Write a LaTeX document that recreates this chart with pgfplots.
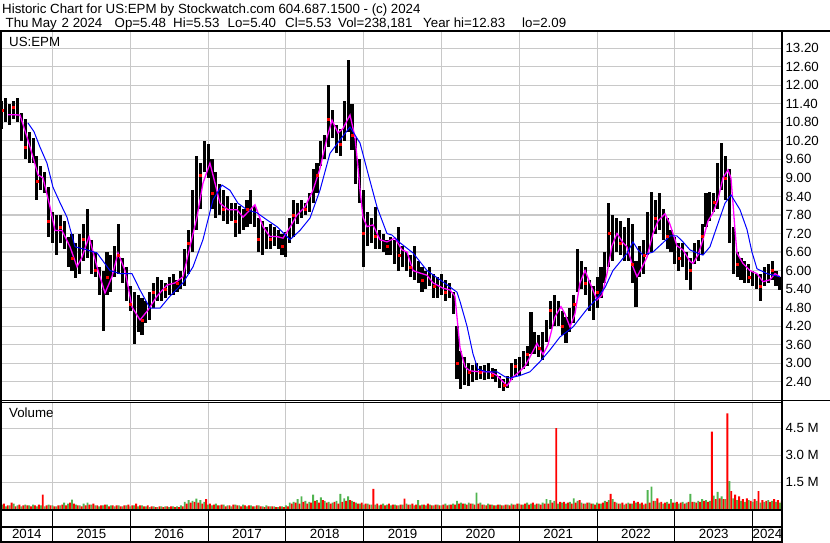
\documentclass[border=0pt]{standalone}
\usepackage{fontspec}
\setmainfont{Liberation Sans}
\usepackage{pgfplots}
\pgfplotsset{compat=1.18}
\usepackage{pgfplotstable}

\definecolor{gridgray}{RGB}{200,200,200}
\definecolor{volgreen}{RGB}{80,180,80}
\definecolor{mamag}{RGB}{255,0,255}
\definecolor{mablue}{RGB}{0,0,255}

% price bars: x (year), high, low, close
\pgfplotstableread{
x h l c
2014.35 11.5 10.6 11.2
2014.40 11.6 10.8 11.0
2014.45 11.4 10.7 11.1
2014.50 11.5 10.9 11.3
2014.55 11.6 10.8 11.0
2014.60 11.1 10.2 10.5
2014.65 10.9 9.6 10.0
2014.70 10.5 9.5 9.8
2014.75 10.3 9.5 9.7
2014.80 9.7 8.3 8.9
2014.85 9.4 8.6 9.0
2014.90 9.2 8.5 8.8
2014.95 8.7 7.1 7.6
2015.00 7.9 6.9 7.3
2015.05 7.8 6.5 7.0
2015.10 7.8 6.9 7.4
2015.15 7.6 6.7 7.0
2015.20 7.1 6.1 6.5
2015.25 7.2 6.0 6.4
2015.30 6.9 5.75 6.1
2015.35 7.2 5.9 6.6
2015.40 7.5 6.3 7.0
2015.45 8.0 6.4 6.9
2015.50 7.0 5.9 6.3
2015.55 6.6 5.8 6.0
2015.60 6.1 5.2 5.5
2015.65 6.0 4.05 5.1
2015.70 6.6 5.2 5.8
2015.75 6.5 5.3 6.1
2015.80 6.8 5.8 6.4
2015.85 7.5 5.9 6.5
2015.90 6.4 5.6 5.9
2015.95 6.1 5.0 5.3
2016.00 5.5 4.7 4.9
2016.05 5.3 3.62 4.3
2016.10 5.2 4.0 4.6
2016.15 5.1 3.9 4.4
2016.20 5.0 4.3 4.7
2016.25 5.3 4.4 5.0
2016.30 5.6 4.8 5.3
2016.35 5.8 5.0 5.4
2016.40 5.7 5.0 5.3
2016.45 5.6 5.1 5.4
2016.50 5.8 5.2 5.6
2016.55 5.9 5.2 5.5
2016.60 5.7 5.3 5.6
2016.65 6.0 5.4 5.8
2016.70 6.7 5.5 6.3
2016.75 7.3 5.9 6.9
2016.80 8.6 6.6 8.0
2016.85 9.7 7.3 8.6
2016.90 9.5 8.0 9.1
2016.95 10.2 9.2 9.8
2017.00 10.1 9.0 9.4
2017.05 9.6 8.0 8.5
2017.10 9.2 7.7 8.3
2017.15 8.8 7.8 8.1
2017.20 8.6 7.6 8.0
2017.25 8.4 7.5 7.9
2017.30 8.2 7.6 7.9
2017.35 8.2 7.1 7.6
2017.40 8.1 7.2 7.8
2017.45 8.0 7.3 7.7
2017.50 8.3 7.4 8.0
2017.55 8.6 7.5 8.1
2017.60 8.1 7.4 7.6
2017.65 7.7 6.6 7.0
2017.70 7.6 6.5 6.9
2017.75 7.4 6.7 7.1
2017.80 7.5 6.7 7.0
2017.85 7.4 6.8 7.1
2017.90 7.3 6.7 6.9
2017.95 7.2 6.5 6.8
2018.00 7.25 6.45 6.9
2018.05 7.7 6.9 7.4
2018.10 8.3 7.1 7.8
2018.15 8.2 7.5 7.9
2018.20 8.3 7.7 8.0
2018.25 8.2 7.8 8.0
2018.30 8.5 7.9 8.3
2018.35 9.3 8.2 8.9
2018.40 9.5 8.5 9.1
2018.45 10.2 9.4 9.9
2018.50 10.4 9.6 10.1
2018.55 12.0 10.0 10.9
2018.60 11.2 10.3 10.6
2018.65 10.7 9.8 10.2
2018.70 10.6 9.7 10.1
2018.75 11.5 10.2 11.0
2018.80 12.83 10.5 11.6
2018.85 11.4 9.9 10.4
2018.90 10.3 8.8 9.3
2018.95 9.6 8.2 8.6
2019.00 8.6 6.12 7.2
2019.05 7.9 6.8 7.4
2019.10 7.7 6.9 7.3
2019.15 8.05 6.7 7.1
2019.20 7.3 6.7 7.0
2019.25 7.2 6.6 6.9
2019.30 7.0 6.5 6.8
2019.35 7.1 6.5 6.9
2019.40 7.0 6.2 6.6
2019.45 7.4 6.0 6.5
2019.50 6.8 6.1 6.4
2019.55 6.6 6.0 6.3
2019.60 6.5 5.8 6.1
2019.65 6.8 5.7 6.0
2019.70 6.3 5.6 5.9
2019.75 6.1 5.3 5.7
2019.80 6.0 5.4 5.8
2019.85 6.1 5.5 5.7
2019.90 5.9 5.1 5.5
2019.95 5.8 5.1 5.4
2020.00 5.9 5.2 5.5
2020.05 5.7 5.0 5.3
2020.10 5.6 5.1 5.4
2020.15 5.3 4.6 5.0
2020.20 4.2 2.5 3.0
2020.25 3.4 2.15 2.6
2020.30 3.2 2.3 2.8
2020.35 3.0 2.25 2.7
2020.40 2.95 2.4 2.7
2020.45 3.0 2.45 2.8
2020.50 2.9 2.5 2.7
2020.55 2.95 2.45 2.7
2020.60 3.0 2.5 2.8
2020.65 2.85 2.5 2.6
2020.70 2.8 2.4 2.5
2020.75 2.6 2.2 2.4
2020.80 2.5 2.09 2.3
2020.85 2.6 2.2 2.4
2020.90 3.0 2.45 2.8
2020.95 3.15 2.6 2.9
2021.00 3.2 2.6 3.0
2021.05 3.4 2.8 3.2
2021.10 3.55 2.9 3.3
2021.15 4.66 3.3 3.9
2021.20 4.0 3.3 3.6
2021.25 3.9 3.2 3.5
2021.30 4.0 3.1 3.6
2021.35 4.4 3.7 4.1
2021.40 5.0 4.1 4.7
2021.45 5.2 4.2 4.8
2021.50 5.0 4.2 4.5
2021.55 4.7 3.9 4.2
2021.60 4.5 3.65 4.0
2021.65 4.8 4.0 4.4
2021.70 5.2 4.3 4.9
2021.75 6.7 5.3 6.0
2021.80 6.3 5.4 5.9
2021.85 6.1 5.2 5.6
2021.90 5.7 4.7 5.1
2021.95 5.5 4.4 4.9
2022.00 5.8 4.8 5.3
2022.05 6.1 5.1 5.7
2022.10 6.6 5.6 6.2
2022.15 8.2 6.1 7.2
2022.20 7.8 6.3 7.1
2022.25 7.7 6.6 7.0
2022.30 7.6 6.5 6.9
2022.35 7.4 6.3 6.8
2022.40 7.7 6.3 7.0
2022.45 7.5 5.6 6.2
2022.50 6.3 4.83 5.6
2022.55 6.8 5.8 6.2
2022.60 7.0 5.9 6.5
2022.65 7.9 6.5 7.3
2022.70 8.55 6.6 7.8
2022.75 8.3 7.2 7.7
2022.80 8.5 7.3 7.9
2022.85 8.0 7.0 7.4
2022.90 7.7 6.7 7.1
2022.95 7.3 6.6 6.9
2023.00 7.1 6.2 6.6
2023.05 6.9 6.0 6.4
2023.10 6.9 6.1 6.5
2023.15 6.6 5.7 6.1
2023.20 6.4 5.37 6.0
2023.25 6.9 6.2 6.6
2023.30 7.0 6.3 6.7
2023.35 7.5 6.5 7.1
2023.40 8.5 7.4 8.0
2023.45 8.55 7.6 8.1
2023.50 8.5 7.9 8.2
2023.55 9.5 8.0 8.9
2023.60 10.13 8.6 9.5
2023.65 9.7 8.3 9.0
2023.70 9.3 6.9 8.5
2023.75 7.4 5.9 6.5
2023.80 6.6 5.8 6.2
2023.85 6.4 5.7 6.0
2023.90 6.3 5.6 5.9
2023.95 6.2 5.6 5.8
2024.00 6.0 5.5 5.7
2024.05 5.9 5.4 5.6
2024.10 5.9 5.0 5.5
2024.15 6.1 5.5 5.8
2024.20 6.2 5.6 5.9
2024.25 6.3 5.7 6.0
2024.30 6.0 5.5 5.7
2024.35 5.8 5.37 5.53
}\price

% short moving average (magenta)
\pgfplotstableread{
x y
2014.428 11.05
2014.582 11.04
2014.672 10.33
2014.749 9.68
2014.814 9.10
2014.878 9.00
2014.968 8.06
2015.032 7.30
2015.122 7.30
2015.225 6.77
2015.315 6.12
2015.379 6.43
2015.469 7.10
2015.572 6.12
2015.675 5.27
2015.765 5.80
2015.842 6.57
2015.932 6.00
2016.022 4.82
2016.125 4.40
2016.228 4.72
2016.343 5.17
2016.472 5.53
2016.575 5.60
2016.677 5.80
2016.767 6.77
2016.857 7.73
2016.934 8.83
2017.024 9.48
2017.089 8.83
2017.153 8.18
2017.256 7.97
2017.372 7.97
2017.449 7.73
2017.603 8.13
2017.706 7.42
2017.796 7.10
2017.886 7.10
2017.963 7.05
2018.053 7.40
2018.143 7.80
2018.245 8.06
2018.348 8.60
2018.438 9.30
2018.528 10.30
2018.593 10.87
2018.670 10.46
2018.734 10.60
2018.824 11.04
2018.888 10.33
2018.927 9.35
2018.953 8.60
2018.991 7.73
2019.042 7.42
2019.120 7.48
2019.209 7.00
2019.299 6.93
2019.402 7.05
2019.492 6.67
2019.557 6.60
2019.634 6.00
2019.724 5.92
2019.814 5.85
2019.891 5.60
2020.019 5.43
2020.109 5.37
2020.173 5.17
2020.238 3.50
2020.302 2.88
2020.366 2.75
2020.495 2.72
2020.623 2.72
2020.713 2.60
2020.842 2.27
2020.919 2.55
2020.983 2.68
2021.073 2.90
2021.137 3.20
2021.228 3.64
2021.305 3.28
2021.369 3.60
2021.459 4.50
2021.536 4.83
2021.587 4.60
2021.652 4.17
2021.716 4.60
2021.780 5.60
2021.845 6.00
2021.909 5.60
2021.999 5.05
2022.063 5.20
2022.127 5.90
2022.191 6.80
2022.256 7.20
2022.333 6.90
2022.384 6.77
2022.461 6.12
2022.513 5.80
2022.577 6.10
2022.641 6.43
2022.718 7.20
2022.783 7.60
2022.873 7.84
2022.937 7.50
2023.027 6.80
2023.104 6.67
2023.194 6.30
2023.233 6.23
2023.297 6.50
2023.361 7.00
2023.425 7.60
2023.490 7.87
2023.554 8.30
2023.618 9.00
2023.683 9.26
2023.721 9.00
2023.747 8.18
2023.772 7.33
2023.798 6.57
2023.875 6.23
2023.965 6.00
2024.055 5.90
2024.132 5.64
2024.222 5.70
2024.287 5.90
2024.351 5.80
}\mashort

% long moving average (blue)
\pgfplotstableread{
x y
2014.685 10.78
2014.762 10.50
2014.839 10.00
2014.929 9.48
2015.006 8.70
2015.096 8.20
2015.186 7.73
2015.289 6.77
2015.443 6.67
2015.572 6.57
2015.739 6.00
2015.868 5.90
2016.022 5.90
2016.125 5.37
2016.253 4.78
2016.382 4.78
2016.510 5.17
2016.677 5.60
2016.806 6.12
2016.934 7.00
2017.063 8.29
2017.179 8.77
2017.281 8.60
2017.384 8.18
2017.500 7.97
2017.628 7.87
2017.757 7.64
2017.886 7.42
2018.053 7.00
2018.181 7.30
2018.310 7.70
2018.438 8.60
2018.567 9.80
2018.695 10.23
2018.824 10.65
2018.953 10.13
2019.055 9.15
2019.171 8.06
2019.299 7.20
2019.364 7.15
2019.467 6.90
2019.634 6.57
2019.814 6.00
2019.981 5.70
2020.109 5.47
2020.199 5.30
2020.238 5.00
2020.328 4.20
2020.405 3.30
2020.469 2.80
2020.585 2.72
2020.713 2.72
2020.816 2.56
2020.881 2.52
2021.009 2.60
2021.137 2.72
2021.266 3.05
2021.395 3.43
2021.523 3.85
2021.690 4.17
2021.870 4.75
2021.999 5.10
2022.102 5.45
2022.204 6.00
2022.384 6.55
2022.461 6.93
2022.526 6.67
2022.590 6.50
2022.718 6.60
2022.847 6.90
2022.937 7.12
2023.027 7.12
2023.104 6.93
2023.194 6.67
2023.284 6.57
2023.361 6.50
2023.451 6.77
2023.541 7.43
2023.644 8.18
2023.721 8.45
2023.837 7.97
2023.927 7.33
2023.991 6.60
2024.055 6.06
2024.184 5.90
2024.351 5.80
}\malong

% volume in millions: up days (g) and down days (r)
\pgfplotstableread{
x g r
2014.35 0.25 0.30
2014.40 0.15 0.20
2014.45 0.20 0.35
2014.50 0.30 0.15
2014.55 0.20 0.25
2014.60 0.15 0.20
2014.65 0.25 0.20
2014.70 0.20 0.15
2014.75 0.25 0.20
2014.80 0.15 0.25
2014.85 0.20 0.80
2014.90 0.15 0.20
2014.95 0.25 0.20
2015.00 0.20 0.15
2015.05 0.15 0.20
2015.10 0.20 0.25
2015.15 0.35 0.20
2015.20 0.30 0.35
2015.25 0.52 0.30
2015.30 0.25 0.20
2015.35 0.20 0.15
2015.40 0.30 0.20
2015.45 0.35 0.25
2015.50 0.25 0.30
2015.55 0.20 0.20
2015.60 0.15 0.20
2015.65 0.20 0.25
2015.70 0.25 0.15
2015.75 0.20 0.20
2015.80 0.15 0.20
2015.85 0.20 0.15
2015.90 0.15 0.20
2015.95 0.20 0.25
2016.00 0.15 0.20
2016.05 0.20 0.30
2016.10 0.15 0.20
2016.15 0.20 0.15
2016.20 0.15 0.20
2016.25 0.10 0.15
2016.30 0.15 0.10
2016.35 0.10 0.15
2016.40 0.15 0.10
2016.45 0.15 0.15
2016.50 0.10 0.15
2016.55 0.15 0.10
2016.60 0.15 0.10
2016.65 0.20 0.15
2016.70 0.40 0.30
2016.75 0.50 0.35
2016.80 0.45 0.40
2016.85 0.58 0.35
2016.90 0.50 0.30
2016.95 0.40 0.55
2017.00 0.25 0.30
2017.05 0.20 0.25
2017.10 0.30 0.20
2017.15 0.20 0.25
2017.20 0.25 0.15
2017.25 0.20 0.20
2017.30 0.15 0.25
2017.35 0.25 0.20
2017.40 0.20 0.15
2017.45 0.25 0.20
2017.50 0.15 0.20
2017.55 0.20 0.15
2017.60 0.15 0.20
2017.65 0.20 0.15
2017.70 0.15 0.10
2017.75 0.20 0.15
2017.80 0.15 0.15
2017.85 0.15 0.10
2017.90 0.10 0.15
2017.95 0.15 0.10
2018.00 0.20 0.15
2018.05 0.35 0.30
2018.10 0.40 0.35
2018.15 0.55 0.30
2018.20 0.70 0.40
2018.25 0.45 0.30
2018.30 0.40 0.35
2018.35 0.80 0.45
2018.40 0.50 0.35
2018.45 0.65 0.50
2018.50 0.45 0.35
2018.55 0.40 0.30
2018.60 0.35 0.40
2018.65 0.45 0.30
2018.70 0.85 0.40
2018.75 0.60 0.45
2018.80 0.70 0.50
2018.85 0.45 0.40
2018.90 0.35 0.30
2018.95 0.30 0.35
2019.00 0.25 0.30
2019.05 0.30 0.25
2019.10 0.25 1.12
2019.15 0.25 0.30
2019.20 0.20 0.25
2019.25 0.30 0.20
2019.30 0.25 0.30
2019.35 0.20 0.25
2019.40 0.25 0.20
2019.45 0.20 0.25
2019.50 0.25 0.58
2019.55 0.30 0.25
2019.60 0.25 0.30
2019.65 0.20 0.25
2019.70 0.50 0.20
2019.75 0.25 0.25
2019.80 0.20 0.30
2019.85 0.25 0.20
2019.90 0.20 0.25
2019.95 0.25 0.20
2020.00 0.20 0.25
2020.05 0.30 0.20
2020.10 0.25 0.25
2020.15 0.30 0.25
2020.20 0.45 0.30
2020.25 0.35 0.30
2020.30 0.30 0.25
2020.35 0.35 0.30
2020.40 0.30 0.25
2020.45 0.92 0.30
2020.50 0.35 0.25
2020.55 0.25 0.20
2020.60 0.30 0.25
2020.65 0.25 0.20
2020.70 0.20 0.25
2020.75 0.25 0.20
2020.80 0.20 0.25
2020.85 0.25 0.20
2020.90 0.30 0.25
2020.95 0.25 0.30
2021.00 0.30 0.25
2021.05 0.25 0.30
2021.10 0.35 0.25
2021.15 0.30 0.35
2021.20 0.25 0.30
2021.25 0.30 0.25
2021.30 0.35 0.30
2021.35 0.55 0.30
2021.40 0.50 0.35
2021.45 0.45 4.52
2021.50 0.30 0.40
2021.55 0.35 0.40
2021.60 0.30 0.35
2021.65 0.40 0.30
2021.70 0.60 0.35
2021.75 0.45 0.50
2021.80 0.35 0.30
2021.85 0.30 0.35
2021.90 0.35 0.30
2021.95 0.30 0.25
2022.00 0.35 0.30
2022.05 0.30 0.35
2022.10 0.45 0.40
2022.15 0.50 0.84
2022.20 0.55 0.40
2022.25 0.35 0.30
2022.30 0.30 0.35
2022.35 0.25 0.30
2022.40 0.35 0.30
2022.45 0.30 0.45
2022.50 0.35 0.40
2022.55 0.30 0.35
2022.60 0.25 0.30
2022.65 1.06 0.35
2022.70 1.25 0.45
2022.75 0.45 0.60
2022.80 0.35 0.40
2022.85 0.30 0.35
2022.90 0.40 0.30
2022.95 0.55 0.35
2023.00 0.35 0.40
2023.05 0.30 0.35
2023.10 0.40 0.30
2023.15 0.35 0.40
2023.20 0.85 0.40
2023.25 0.40 0.35
2023.30 0.45 0.40
2023.35 0.55 0.45
2023.40 0.50 0.40
2023.45 0.45 4.32
2023.50 0.75 0.55
2023.55 0.95 0.60
2023.60 0.70 0.55
2023.65 0.55 5.34
2023.70 1.55 1.00
2023.75 0.60 0.80
2023.80 0.50 0.70
2023.85 0.45 0.55
2023.90 0.40 0.60
2023.95 0.50 0.45
2024.00 0.40 0.55
2024.05 0.45 1.00
2024.10 0.35 0.50
2024.15 0.40 0.45
2024.20 0.50 0.40
2024.25 0.45 0.55
2024.30 0.40 0.50
2024.35 0.35 0.45
}\volume

\newcommand\chartfont{\fontsize{13.3}{15}\selectfont}

\pgfplotsset{
  swpane/.style={
    scale only axis, anchor=south west,
    width=781pt,
    xmin=2014.338, xmax=2024.377,
    axis line style={draw=none},
    major tick length=0pt,
    xtick={2015,2016,2017,2018,2019,2020,2021,2022,2023,2024},
    xticklabels={},
    grid=major,
    major grid style={gridgray, line width=1.1pt},
    yticklabel pos=right,
    tick label style={font=\chartfont},
    /pgf/number format/assume math mode=true,
  }
}

\begin{document}
\begin{tikzpicture}
\path[use as bounding box] (0pt,0pt) rectangle (830pt,543pt);

% price pane
\begin{axis}[swpane, at={(1pt,143pt)}, height=367.7pt,
  ymin=1.807, ymax=13.718,
  ytick={2.4,3,3.6,4.2,4.8,5.4,6,6.6,7.2,7.8,8.4,9,9.6,10.2,10.8,11.4,12,12.6,13.2},
  yticklabel style={/pgf/number format/.cd, fixed, fixed zerofill, precision=2},
]
\addplot[mark=none, draw=none, forget plot,
  error bars/.cd, y dir=both, y explicit, error mark=none,
  error bar style={draw=black, solid, line width=3.1pt}]
  table[x=x, y expr=(\thisrow{h}+\thisrow{l})/2,
        y error expr=(\thisrow{h}-\thisrow{l})/2]{\price};
\addplot[only marks, mark=square*, mark size=1pt, red,
  each nth point=3, filter discard warning=false]
  table[x=x, y=c]{\price};
\addplot[mamag, line width=1.3pt, mark=none] table[x=x, y=y]{\mashort};
\addplot[mablue, line width=1pt, mark=none] table[x=x, y=y]{\malong};
\end{axis}

% volume pane
\begin{axis}[swpane, at={(1pt,34pt)}, height=106pt,
  ymin=0, ymax=5.92,
  ytick={1.5,3,4.5},
  yticklabels={1.5 M,3.0 M,4.5 M},
]
\addplot[ybar, bar width=1.9pt, bar shift=0pt, fill=volgreen, draw=none]
  table[x=x, y=g]{\volume};
\addplot[ybar, bar width=1.9pt, bar shift=0pt, fill=red, draw=none]
  table[x expr=\thisrow{x}+0.025, y=r]{\volume};
\end{axis}

% year strip
\begin{axis}[swpane, at={(1pt,1pt)}, height=31.7pt,
  ymin=0, ymax=1, ytick=\empty,
  major grid style={black, line width=1pt},
]
\node[anchor=base, font=\chartfont] at (axis cs:2014.67,0.095) {2014};
\node[anchor=base, font=\chartfont] at (axis cs:2015.5,0.095) {2015};
\node[anchor=base, font=\chartfont] at (axis cs:2016.5,0.095) {2016};
\node[anchor=base, font=\chartfont] at (axis cs:2017.5,0.095) {2017};
\node[anchor=base, font=\chartfont] at (axis cs:2018.5,0.095) {2018};
\node[anchor=base, font=\chartfont] at (axis cs:2019.5,0.095) {2019};
\node[anchor=base, font=\chartfont] at (axis cs:2020.5,0.095) {2020};
\node[anchor=base, font=\chartfont] at (axis cs:2021.5,0.095) {2021};
\node[anchor=base, font=\chartfont] at (axis cs:2022.5,0.095) {2022};
\node[anchor=base, font=\chartfont] at (axis cs:2023.5,0.095) {2023};
\node[anchor=base, font=\chartfont] at (axis cs:2024.19,0.095) {2024};
\end{axis}

\begin{scope}[x=1pt,y=1pt]
% frame
\draw[line width=2pt] (0,511.7) -- (830,511.7);
\draw[line width=2pt] (1,0) -- (1,512.7);
\draw[line width=2pt] (782,0) -- (782,512.7);
\draw[line width=1pt] (0,142.5) -- (830,142.5);
\draw[line width=1pt] (0,140.5) -- (782,140.5);
\draw[line width=2pt] (0,32.7) -- (782,32.7);
\draw[line width=2pt] (0,16.2) -- (782,16.2);
\draw[line width=2pt] (0,1) -- (782,1);

% texts
\node[anchor=base west, inner sep=0, font=\chartfont] at (2,529)
  {Historic Chart for US:EPM by Stockwatch.com 604.687.1500 - (c) 2024};
\node[anchor=base west, inner sep=0, font=\chartfont] at (5.5,515.5) {Thu};
\node[anchor=base west, inner sep=0, font=\chartfont] at (31.5,515.5) {May};
\node[anchor=base west, inner sep=0, font=\chartfont] at (61.5,515.5) {2 2024};
\node[anchor=base west, inner sep=0, font=\chartfont] at (114.5,515.5) {Op=5.48};
\node[anchor=base west, inner sep=0, font=\chartfont] at (173,515.5) {Hi=5.53};
\node[anchor=base west, inner sep=0, font=\chartfont] at (227.5,515.5) {Lo=5.40};
\node[anchor=base west, inner sep=0, font=\chartfont] at (285,515.5) {Cl=5.53};
\node[anchor=base west, inner sep=0, font=\chartfont] at (338,515.5) {Vol=238,181};
\node[anchor=base west, inner sep=0, font=\chartfont] at (423,515.5) {Year hi=12.83};
\node[anchor=base west, inner sep=0, font=\chartfont] at (522,515.5) {lo=2.09};
\node[anchor=base west, inner sep=0, font=\chartfont] at (9,496.3) {US:EPM};
\node[anchor=base west, inner sep=0, font=\chartfont] at (9,125.3) {Volume};
\end{scope}
\end{tikzpicture}
\end{document}
